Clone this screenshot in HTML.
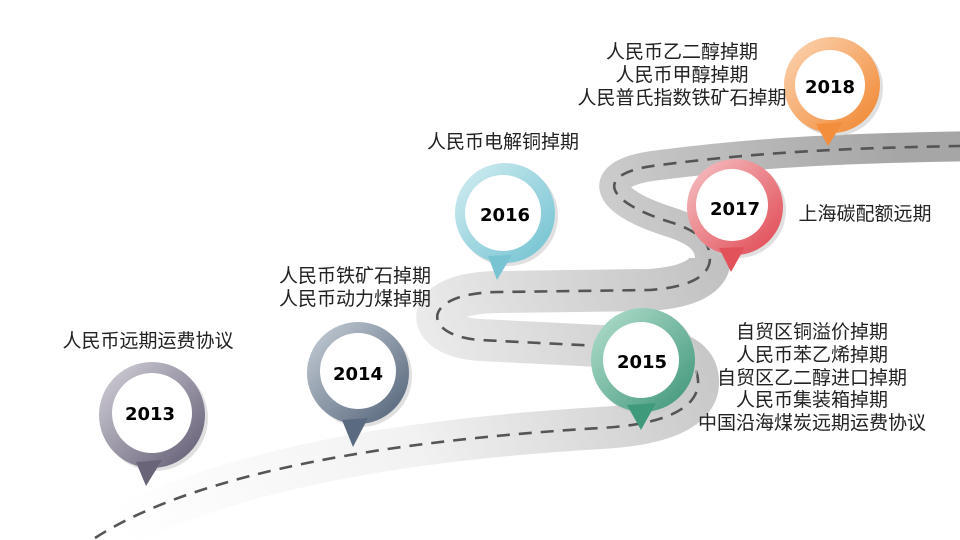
<!DOCTYPE html>
<html><head><meta charset="utf-8"><style>
html,body{margin:0;padding:0;background:#fff;width:960px;height:540px;overflow:hidden}
svg{display:block}
text{font-family:"Liberation Sans","Noto Sans CJK SC",sans-serif;}
.cn{font-size:19px;fill:#222;text-anchor:middle}
.yr{font-size:18px;font-weight:bold;fill:#000;text-anchor:middle;font-family:"DejaVu Sans","Liberation Sans",sans-serif}
</style></head><body>
<svg width="960" height="540" viewBox="0 0 960 540" xmlns="http://www.w3.org/2000/svg">
<defs>
<linearGradient id="rd" gradientUnits="userSpaceOnUse" x1="100" y1="480" x2="900" y2="150">
<stop offset="0" stop-color="#ffffff"/><stop offset="0.35" stop-color="#f2f2f2"/><stop offset="0.55" stop-color="#dadada"/><stop offset="0.75" stop-color="#c2c2c2"/><stop offset="1" stop-color="#a6a6a6"/>
</linearGradient>
<linearGradient id="g13" x1="0" y1="0" x2="1" y2="1"><stop offset="0" stop-color="#d6d4dc"/><stop offset="1" stop-color="#5e5870"/></linearGradient>
<linearGradient id="g14" x1="0" y1="0" x2="1" y2="1"><stop offset="0" stop-color="#c8d0d8"/><stop offset="1" stop-color="#4f6076"/></linearGradient>
<linearGradient id="g15" x1="0" y1="0" x2="1" y2="1"><stop offset="0" stop-color="#b5e0d0"/><stop offset="1" stop-color="#3c9476"/></linearGradient>
<linearGradient id="g16" x1="0" y1="0" x2="1" y2="1"><stop offset="0" stop-color="#d4eef2"/><stop offset="1" stop-color="#6ec0d0"/></linearGradient>
<linearGradient id="g17" x1="0" y1="0" x2="1" y2="1"><stop offset="0" stop-color="#f6c4c6"/><stop offset="1" stop-color="#e04550"/></linearGradient>
<linearGradient id="g18" x1="0" y1="0" x2="1" y2="1"><stop offset="0" stop-color="#fcd6b6"/><stop offset="1" stop-color="#f0842c"/></linearGradient>
</defs>

<!-- road -->
<path d="M 60 560 C 200 470, 400 440, 600 428 C 660 425, 700 410, 698 380 C 696 350, 660 348, 620 347 L 480 340 C 420 336, 420 292, 500 292 L 650 290 C 690 287, 710 276, 710 258 C 710 240, 695 230, 670 222 C 600 200, 595 172, 660 165 C 760 152, 850 148, 980 146" fill="none" stroke="url(#rd)" stroke-width="30" stroke-linejoin="round"/>
<path d="M 60 560 C 200 470, 400 440, 600 428 C 660 425, 700 410, 698 380 C 696 350, 660 348, 620 347 L 480 340 C 420 336, 420 292, 500 292 L 650 290 C 690 287, 710 276, 710 258" fill="none" stroke="url(#rd)" stroke-width="42" stroke-linejoin="round"/>
<path d="M 95 538 C 200 470, 400 440, 600 428 C 660 425, 700 410, 698 380 C 696 350, 660 348, 620 347 L 480 340 C 420 336, 420 292, 500 292 L 650 290 C 690 287, 710 276, 710 258 C 710 240, 695 230, 670 222 C 600 200, 595 172, 660 165 C 760 152, 850 148, 960 146" fill="none" stroke="#555" stroke-width="2.6" stroke-dasharray="13 9"/>

<!-- markers -->
<g>
<g transform="translate(155,418)"><circle r="53" fill="#ccc" opacity="0.6"/></g>
<circle cx="152" cy="415" r="53" fill="url(#g13)"/><path d="M136 462 L146 486 L162 460 Z" fill="#6a6478"/><circle cx="152" cy="413" r="40" fill="#fff"/>
<text class="yr" x="150" y="420">2013</text>

<g transform="translate(361,376)"><circle r="51" fill="#ccc" opacity="0.6"/></g>
<circle cx="358" cy="373" r="51" fill="url(#g14)"/><path d="M342 420 L353 447 L368 418 Z" fill="#5a6a80"/><circle cx="358" cy="371" r="38" fill="#fff"/>
<text class="yr" x="358" y="380">2014</text>

<g transform="translate(646,363)"><circle r="52" fill="#ccc" opacity="0.6"/></g>
<circle cx="643" cy="360" r="52" fill="url(#g15)"/><path d="M627 405 L641 430 L656 403 Z" fill="#3e9a7a"/><circle cx="641" cy="360" r="38" fill="#fff"/>
<text class="yr" x="642" y="368">2015</text>

<g transform="translate(508,216)"><circle r="50" fill="#ccc" opacity="0.6"/></g>
<circle cx="505" cy="213" r="50" fill="url(#g16)"/><path d="M488 256 L497 280 L512 255 Z" fill="#78c4d2"/><circle cx="503" cy="213" r="38" fill="#fff"/>
<text class="yr" x="505" y="221">2016</text>

<g transform="translate(738,210)"><circle r="48" fill="#ccc" opacity="0.6"/></g>
<circle cx="735" cy="207" r="48" fill="url(#g17)"/><path d="M719 248 L731 272 L745 247 Z" fill="#e2525a"/><circle cx="732" cy="205" r="36" fill="#fff"/>
<text class="yr" x="735" y="215">2017</text>

<g transform="translate(835,88)"><circle r="48" fill="#ccc" opacity="0.6"/></g>
<circle cx="832" cy="85" r="48" fill="url(#g18)"/><path d="M816 124 L828 146 L843 122 Z" fill="#f28e3c"/><circle cx="830" cy="85" r="35" fill="#fff"/>
<text class="yr" x="830" y="93">2018</text>
</g>

<!-- labels -->
<text class="cn" x="148" y="347">人民币远期运费协议</text>
<text class="cn" x="355" y="282">人民币铁矿石掉期</text>
<text class="cn" x="355" y="305">人民币动力煤掉期</text>
<text class="cn" x="503" y="148">人民币电解铜掉期</text>
<text class="cn" x="865" y="220">上海碳配额远期</text>
<text class="cn" x="682" y="58">人民币乙二醇掉期</text>
<text class="cn" x="682" y="81">人民币甲醇掉期</text>
<text class="cn" x="682" y="104">人民普氏指数铁矿石掉期</text>
<text class="cn" x="812" y="338">自贸区铜溢价掉期</text>
<text class="cn" x="812" y="361">人民币苯乙烯掉期</text>
<text class="cn" x="812" y="384">自贸区乙二醇进口掉期</text>
<text class="cn" x="812" y="406">人民币集装箱掉期</text>
<text class="cn" x="812" y="429">中国沿海煤炭远期运费协议</text>
</svg>
</body></html>
